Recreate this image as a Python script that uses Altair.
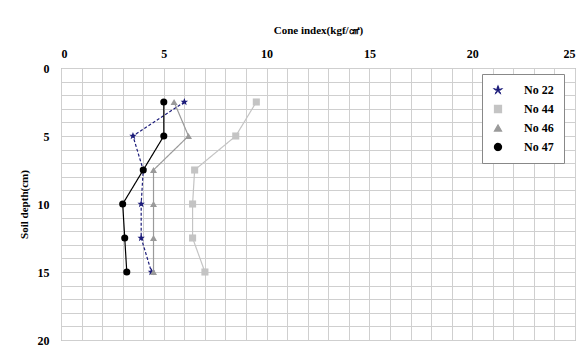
import altair as alt
import pandas as pd

depths = [2.5, 5, 7.5, 10, 12.5, 15]
series = ["No 22", "No 44", "No 46", "No 47"]
no22 = [6.0, 3.5, 4.0, 3.9, 3.9, 4.4]
no44 = [9.5, 8.5, 6.5, 6.4, 6.4, 7.0]
no46 = [5.5, 6.2, 4.5, 4.5, 4.5, 4.5]
no47 = [5.0, 5.0, 4.0, 3.0, 3.1, 3.2]

colors = ["#1c1c7a", "#c4c4c4", "#9a9a9a", "#000000"]
shapes = ["M0,-1.1L0.3,-0.35L1.05,-0.35L0.45,0.12L0.65,0.9L0,0.42L-0.65,0.9L-0.45,0.12L-1.05,-0.35L-0.3,-0.35Z",
          "square", "triangle-up", "circle"]
dashes = [[3, 2], [1, 0], [1, 0], [1, 0]]
widths = [1.2, 1.2, 1.2, 2.2]

rows = []
for name, vals in zip(series, [no22, no44, no46, no47]):
    for d, v in zip(depths, vals):
        rows.append({"series": name, "depth": d, "value": v})
df = pd.DataFrame(rows)

font = "Liberation Serif"

x = alt.X("value:Q", scale=alt.Scale(domain=[0, 25], nice=False),
          axis=alt.Axis(orient="top", values=list(range(0, 26)),
                        labelExpr="datum.value % 5 == 0 ? datum.label : ''",
                        title="Cone index(kgf/㎠)", titleFont=font, titleFontSize=11,
                        titleFontWeight="bold", titlePadding=12,
                        labelFont=font, labelFontSize=12, labelFontWeight="bold",
                        labelPadding=8, ticks=False, domain=False,
                        gridColor="#cfcfcf", gridWidth=1))
y = alt.Y("depth:Q", scale=alt.Scale(domain=[0, 20], reverse=True, nice=False),
          axis=alt.Axis(values=list(range(0, 21)),
                        labelExpr="datum.value % 5 == 0 ? datum.label : ''",
                        title="Soil depth(cm)", titleFont=font, titleFontSize=11,
                        titleFontWeight="bold", titlePadding=8,
                        labelFont=font, labelFontSize=12, labelFontWeight="bold",
                        labelPadding=12, ticks=False, domain=False,
                        gridColor="#cfcfcf", gridWidth=1))

legend = alt.Legend(title=None, orient="none", legendX=421, legendY=6,
                    fillColor="white", strokeColor="#888",
                    padding=10, labelFont=font, labelFontSize=12,
                    labelFontWeight="bold", rowPadding=7, labelOffset=20,
                    symbolSize=50, symbolStrokeWidth=1.5)
color = alt.Color("series:N", scale=alt.Scale(domain=series, range=colors), legend=legend)
shape = alt.Shape("series:N", scale=alt.Scale(domain=series, range=shapes), legend=legend)

lines = alt.Chart(df).mark_line().encode(
    x=x, y=y,
    color=color,
    strokeDash=alt.StrokeDash("series:N", scale=alt.Scale(domain=series, range=dashes), legend=None),
    strokeWidth=alt.StrokeWidth("series:N", scale=alt.Scale(domain=series, range=widths), legend=None),
    order="depth:Q",
)

points = alt.Chart(df).mark_point(filled=True, size=50, opacity=1).encode(
    x=x, y=y,
    color=color,
    shape=shape,
)

chart = alt.layer(lines, points).properties(
    width=514, height=272,
    autosize=alt.AutoSizeParams(type="none"),
    padding={"left": 61, "top": 68, "right": 10, "bottom": 8},
    background="white",
).configure_view(stroke="#999", strokeWidth=1)

chart.save("out.html", embed_options={"renderer": "svg", "actions": False})
